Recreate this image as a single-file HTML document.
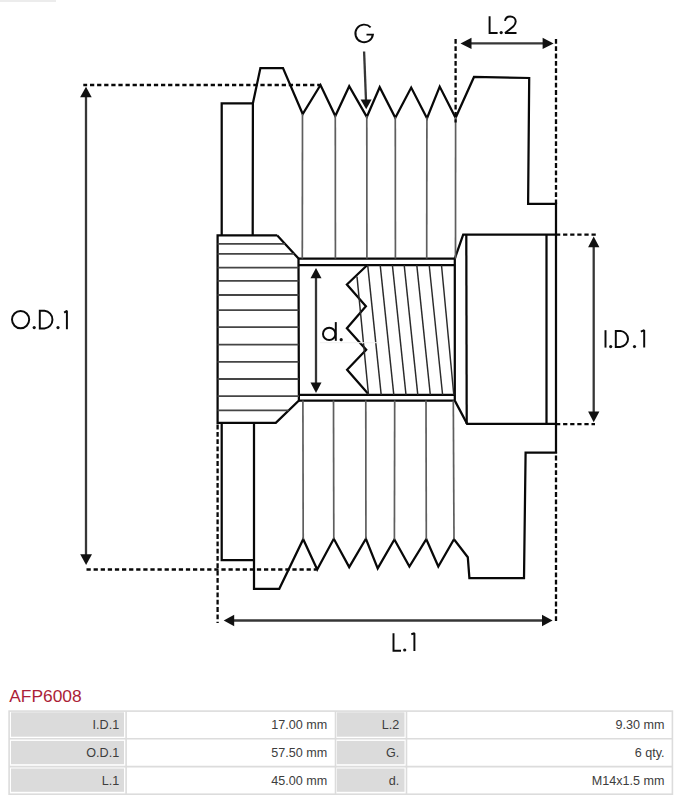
<!DOCTYPE html>
<html><head><meta charset="utf-8">
<style>
html,body{margin:0;padding:0;background:#fff;}
body{width:684px;height:800px;position:relative;overflow:hidden;font-family:"Liberation Sans",sans-serif;}
svg{position:absolute;left:0;top:0;}
.t{position:absolute;}
</style></head><body>
<svg width="684" height="680" viewBox="0 0 684 680">
<rect x="0" y="0" width="56" height="2" fill="#ececec"/>
<g fill="none" stroke="#080808" stroke-width="2.25" stroke-linejoin="miter" stroke-linecap="butt">
<!-- top outline -->
<polyline points="221.7,235 221.7,103.3 252.9,103.3 252.7,235"/>
<polyline points="252.9,103.3 260.4,68 283,68 302.7,114 320.5,85 335.3,116 349.2,86.2 366.8,116.9 379.7,87.2 395.3,117.8 411.2,87.6 427,118.2 439.7,86.6 455.6,117.8 474,77 529.2,78 528.1,203.8 556,203.8 556,234.7"/>
<!-- bottom outline -->
<polyline points="221.7,423 221.7,560 254,560"/>
<polyline points="254,423 254,588.8 279.3,588.8 303.2,539.2 317.2,569.5 333.8,538.8 349.2,567.1 365.9,538.8 377.7,568.4 394.4,539.5 409.4,566.5 426.3,539.2 438.3,566.5 454,539.2 467.8,557.2 469.4,578 524,578 525.6,452.5 556,452.5 556,423.6"/>
<!-- knurl hub -->
<polyline points="277.3,235.4 217.6,235.4 217.6,422.8 275.8,422.8 298.9,400.6 298.5,258.5 277.3,235.4"/>
<!-- bore -->
<line x1="298.5" y1="258.6" x2="455" y2="258.6"/>
<line x1="298.5" y1="265.2" x2="455" y2="265.2"/>
<line x1="298.9" y1="394.8" x2="455" y2="394.8"/>
<line x1="298.9" y1="400.6" x2="455" y2="400.6"/>
<line x1="454.8" y1="258.6" x2="454.8" y2="400.6"/>
<!-- thread zigzag -->
<polyline points="367.1,265.3 346.9,284.5 365.9,306.2 346.9,328.2 366.2,349.7 347.1,369.7 367.9,393.5"/>
<!-- right hub -->
<polyline points="454.8,258.6 463.2,234.7 556,234.7"/>
<polyline points="454.8,400.6 467.1,423.9 556,423.9"/>
<line x1="466.3" y1="234.7" x2="466.7" y2="423.9"/>
<line x1="546.5" y1="234.7" x2="546.5" y2="423.9"/>
<line x1="556" y1="234.7" x2="556" y2="423.6"/>
</g>
<!-- gray thin lines -->
<g fill="none" stroke="#5e5e5e" stroke-width="1.7">
<line x1="302.5" y1="114" x2="302.3" y2="258.6"/>
<line x1="335.3" y1="115.3" x2="335.4" y2="258.6"/>
<line x1="366.8" y1="116" x2="366.9" y2="258.6"/>
<line x1="395.3" y1="117" x2="395.4" y2="258.6"/>
<line x1="426.9" y1="117.5" x2="426.7" y2="258.6"/>
<line x1="455.6" y1="117" x2="455.5" y2="258.6"/>
<line x1="302.9" y1="400.6" x2="303.2" y2="539.2"/>
<line x1="333.5" y1="400.6" x2="333.8" y2="538.8"/>
<line x1="365.8" y1="400.6" x2="365.9" y2="538.8"/>
<line x1="394.7" y1="400.6" x2="394.4" y2="539.5"/>
<line x1="426" y1="400.6" x2="426.3" y2="539.2"/>
<line x1="453.3" y1="400.6" x2="454" y2="539.2"/>
</g>
<g fill="none" stroke="#454545" stroke-width="1.8">
<!-- knurl lines -->
<line x1="217.6" y1="243.9" x2="285.1" y2="243.9"/>
<line x1="217.6" y1="253.8" x2="294.2" y2="253.8"/>
<line x1="217.6" y1="267.7" x2="298.5" y2="267.7"/>
<line x1="217.6" y1="280.9" x2="298.5" y2="280.9"/>
<line x1="217.6" y1="295" x2="298.5" y2="295"/>
<line x1="217.6" y1="310.1" x2="298.5" y2="310.1"/>
<line x1="217.6" y1="327.2" x2="298.5" y2="327.2"/>
<line x1="217.6" y1="344.6" x2="298.5" y2="344.6"/>
<line x1="217.6" y1="361.9" x2="298.5" y2="361.9"/>
<line x1="217.6" y1="379" x2="298.5" y2="379"/>
<line x1="217.6" y1="396.1" x2="298.9" y2="396.1"/>
<line x1="217.6" y1="410.4" x2="288.7" y2="410.4"/>
</g>
<g fill="none" stroke="#2a2a2a" stroke-width="1.45">
<!-- thread slant lines -->
<line x1="357" y1="276.6" x2="368.5" y2="394.8"/>
<line x1="367.7" y1="265.2" x2="381.2" y2="394.8"/>
<line x1="380.2" y1="265.2" x2="393.8" y2="394.8"/>
<line x1="392.4" y1="265.2" x2="406" y2="394.8"/>
<line x1="404.2" y1="265.2" x2="417.8" y2="394.8"/>
<line x1="416.8" y1="265.2" x2="430.3" y2="394.8"/>
<line x1="429.2" y1="265.2" x2="442.6" y2="394.8"/>
<line x1="441.5" y1="265.2" x2="453.8" y2="394.8"/>
</g>
<!-- dashed extension lines -->
<g fill="none" stroke="#080808" stroke-width="2.3" stroke-dasharray="4.25 2.85">
<line x1="83.3" y1="85" x2="320" y2="85" stroke-dashoffset="0.4"/>
<line x1="86.5" y1="569.5" x2="316.5" y2="569.5"/>
<line x1="556" y1="234.7" x2="596" y2="234.7"/>
<line x1="556" y1="424.1" x2="595" y2="424.1"/>
</g>
<g fill="none" stroke="#080808" stroke-width="2.3" stroke-dasharray="4.8 2.5">
<line x1="455.6" y1="39" x2="455.6" y2="122.5"/>
<line x1="556" y1="39" x2="556" y2="203.8"/>
<line x1="217.6" y1="424.6" x2="217.6" y2="623"/>
<line x1="556" y1="621" x2="556" y2="452.5"/>
</g>
<line x1="320" y1="342.7" x2="378" y2="342.7" stroke="#f0f0f0" stroke-width="1"/>
<!-- dimension arrows -->
<g fill="none" stroke="#363636" stroke-width="2.3">
<line x1="86" y1="96" x2="86" y2="555"/>
<line x1="364.1" y1="51.5" x2="366" y2="100.5"/>
<line x1="470" y1="43.4" x2="544" y2="43.4"/>
<line x1="593.7" y1="246" x2="593.7" y2="412"/>
<line x1="233" y1="620.5" x2="543" y2="620.5"/>
<line x1="316" y1="277" x2="316" y2="384"/>
</g>
<g fill="#111" stroke="none">
<polygon points="86,86.8 80.1,97.3 91.7,97.3"/>
<polygon points="86.1,565 80.2,554.2 92,554.2"/>
<polygon points="366.2,109.3 360.6,99.5 371.6,99.5"/>
<polygon points="460.5,43.4 471.5,37.8 471.5,49"/>
<polygon points="553.6,43.4 542.6,37.8 542.6,49"/>
<polygon points="593.7,236.6 588.1,247.2 599.4,247.2"/>
<polygon points="593.7,422.3 588.1,411.5 599.4,411.5"/>
<polygon points="223.7,620.5 234.2,614.8 234.2,626.2"/>
<polygon points="552.6,620.5 542,614.8 542,626.2"/>
<polygon points="316,268.1 310.5,278.3 321.5,278.3"/>
<polygon points="316,393 310.5,382.4 321.5,382.4"/>
</g>
<!-- labels drawn as strokes -->
<g fill="none" stroke="#0a0a0a" stroke-width="1.95" stroke-linecap="butt" stroke-miterlimit="1.6">
<!-- O.D.1 -->
<ellipse cx="20.6" cy="319.6" rx="8.6" ry="8.7"/>
<path d="M39.8,310.8 V328.5 H44.5 A8.9,8.9 0 0 0 44.5,310.8 Z"/>
<path d="M64.2,312.6 L66.9,310.8 V329.2"/>
<!-- I.D.1 -->
<path d="M605.5,330.2 V347.6"/>
<path d="M615.8,330.9 V346.9 H620.5 A8.9,8.1 0 0 0 620.5,330.9 Z"/>
<path d="M640.8,331.6 L644.2,330.2 V347.6"/>
<!-- G -->
<path d="M370.6,27.4 A8.8,8.8 0 1 0 372.9,34.6 H366.5"/>
<!-- L.2 -->
<path d="M489.6,16.2 V33 H497.6"/>
<path d="M505,20.8 C505.5,17.8 507.5,16.4 510.2,16.4 C513.5,16.4 515.7,18.6 515.7,21.4 C515.7,23.5 514.6,25 513.2,26.6 L505.1,33 H516.5"/>
<!-- L.1 -->
<path d="M393.5,633.3 V650.7 H401"/>
<path d="M411.3,634.2 L414.4,633.3 V651.1"/>
<!-- d. -->
<circle cx="329.2" cy="333.9" r="6.2"/>
<path d="M335.8,322.1 V340.8"/>
</g>
<g fill="#111">
<circle cx="34.2" cy="327.6" r="1.6"/>
<circle cx="58" cy="327.6" r="1.6"/>
<circle cx="610.7" cy="346.6" r="1.6"/>
<circle cx="634.5" cy="346.6" r="1.6"/>
<circle cx="501.2" cy="32.6" r="1.6"/>
<circle cx="404.7" cy="650" r="1.6"/>
<circle cx="341.2" cy="339.7" r="1.6"/>
</g>
</svg>
<svg width="684" height="120" viewBox="0 680 684 120" style="top:680px">
<text x="9.2" y="701.8" font-family="Liberation Sans" font-size="17.4" fill="#ab1e37">AFP6008</text>
<g fill="#dbdbdb">
<rect x="11" y="712.3" width="113" height="24.4"/>
<rect x="11" y="740.9" width="113" height="23.3"/>
<rect x="11" y="768.5" width="113" height="23.3"/>
<rect x="336.8" y="712.3" width="67.7" height="24.4"/>
<rect x="336.8" y="740.9" width="67.7" height="23.3"/>
<rect x="336.8" y="768.5" width="67.7" height="23.3"/>
</g>
<g fill="none" stroke="#dcdcdc" stroke-width="1.6">
<rect x="9.1" y="711.1" width="663.3" height="83.1"/>
<line x1="9.1" y1="738.8" x2="672.4" y2="738.8"/>
<line x1="9.1" y1="766.6" x2="672.4" y2="766.6"/>
<line x1="126.1" y1="711.1" x2="126.1" y2="794.2"/>
<line x1="335.5" y1="711.1" x2="335.5" y2="794.2"/>
<line x1="406.5" y1="711.1" x2="406.5" y2="794.2"/>
</g>
<g font-family="Liberation Sans" font-size="12.6" fill="#3d3d3d" text-anchor="end">
<text x="119.2" y="729.2">I.D.1</text>
<text x="119.2" y="756.8">O.D.1</text>
<text x="119.2" y="784.5">L.1</text>
<text x="327.3" y="729.2">17.00 mm</text>
<text x="327.3" y="756.8">57.50 mm</text>
<text x="327.3" y="784.5">45.00 mm</text>
<text x="399.2" y="729.2">L.2</text>
<text x="399.2" y="756.8">G.</text>
<text x="399.2" y="784.5">d.</text>
<text x="664.6" y="729.2">9.30 mm</text>
<text x="664.6" y="756.8">6 qty.</text>
<text x="664.6" y="784.5">M14x1.5 mm</text>
</g>
</svg>
</body></html>
